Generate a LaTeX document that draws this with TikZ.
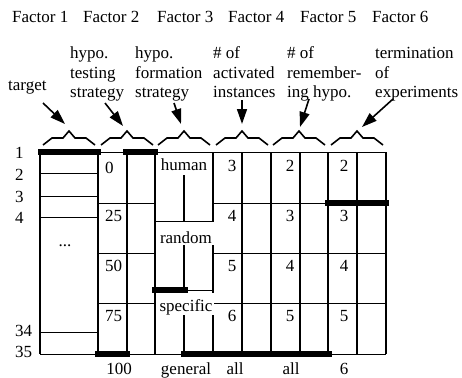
\documentclass[tikz,border=0pt]{standalone}
\usepackage{fontspec}
\setmainfont{Liberation Serif}
\usetikzlibrary{arrows.meta}
\begin{document}
\begin{tikzpicture}[x=1pt,y=-1pt, font=\fontsize{17}{19}\selectfont,
  lbl/.style={inner sep=0pt, anchor=base west},
  num/.style={inner sep=0pt, anchor=base},
  vline/.style={line width=1.8pt},
  hline/.style={line width=1pt},
  bar/.style={line width=6pt},
  brk/.style={line width=1.6pt, line join=miter},
  arr/.style={line width=1.6pt, -{Triangle[length=15pt,width=10pt]}},
  cover/.style={fill=white, inner xsep=2pt, inner ysep=0pt, anchor=base}]
\useasboundingbox (0,0) rectangle (462,377);
% factor headings
\node[lbl] (f1) at (12,23) {Factor 1};
\node[lbl] (f2) at (83,23) {Factor 2};
\node[lbl] (f3) at (157,23) {Factor 3};
\node[lbl] (f4) at (228,23) {Factor 4};
\node[lbl] (f5) at (300,23) {Factor 5};
\node[lbl] (f6) at (372,23) {Factor 6};
% descriptions
\node[lbl] (tg) at (8,90) {target};
\node[lbl] (a1) at (70,59) {hypo.};
\node[lbl] (a2) at (70,78) {testing};
\node[lbl] (a3) at (70,97) {strategy};
\node[lbl] (b1) at (135,59) {hypo.};
\node[lbl] (b2) at (135,78) {formation};
\node[lbl] (b3) at (135,97) {strategy};
\node[lbl] (c1) at (213,59) {\# of};
\node[lbl] (c2) at (213,78) {activated};
\node[lbl] (c3) at (213,97) {instances};
\node[lbl] (d1) at (287,59) {\# of};
\node[lbl] (d2) at (287,78) {remember-};
\node[lbl] (d3) at (287,97) {ing hypo.};
\node[lbl] (e1) at (375,59) {termination};
\node[lbl] (e2) at (375,78) {of};
\node[lbl] (e3) at (375,97) {experiments};
% brackets
\foreach \c/\n in {69/1,127/2,184/3,242/4,299/5,357/6}{
  \coordinate (p\n) at (\c,131);
  \draw[brk] (\c-26,145) -- (\c-17,138) -- (\c-6,138) -- (p\n) -- (\c+6,138) -- (\c+17,138) -- (\c+26,145);
}
% arrows
\coordinate (s1) at (43,103);
\coordinate (s2) at (105,103);
\coordinate (s3) at (174,103);
\coordinate (s4) at (242,100);
\coordinate (s5) at (309,99);
\coordinate (s6) at (393,99);
\coordinate (t1) at (65,124);
\coordinate (t2) at (123,126);
\coordinate (t3) at (181,124);
\coordinate (t4) at (242,124);
\coordinate (t5) at (300,127);
\coordinate (t6) at (362,127);
\foreach \n in {1,...,6} \draw[arr] (s\n) -- (t\n);
% verticals
\foreach \x in {40,98,127,155,184,213,242,271,300,328,357,386}
  \draw[vline] (\x,152) -- (\x,354);
% row lines
\foreach \y in {203,253,303}{
  \draw[hline] (98,\y) -- (155,\y);
  \draw[hline] (213,\y) -- (386,\y);
}
\foreach \y in {173,196,217,332} \draw[hline] (40,\y) -- (98,\y);
\draw[hline] (184,290) -- (213,290);
% column 3 labels with white cover
\node[cover, text height=18pt, text depth=5pt] (hu) at (184,170) {human};
\node[cover, text height=21pt, text depth=2pt] (ra) at (186,243) {random};
\node[cover, text height=18pt, text depth=4pt] (sp) at (186,311) {specific};
\draw[hline] (155,221) -- (213,221);
\draw[hline] (38,152) -- (386,152);
\draw[hline] (40,354) -- (386,354);
% thick bars
\draw[bar] (38,152) -- (101,152);
\draw[bar] (123,152) -- (158,152);
\draw[bar] (325,203) -- (389,203);
\draw[bar] (152,290) -- (188,290);
\draw[bar] (95,354) -- (130,354);
\draw[bar] (181,354) -- (332,354);
% row labels
\node[lbl] (r1) at (15,158) {1};
\node[lbl] (r2) at (15,180) {2};
\node[lbl] (r3) at (15,202) {3};
\node[lbl] (r4) at (15,223) {4};
\node[num] (rd) at (65,246) {...};
\node[lbl] (r34) at (15,336) {34};
\node[lbl] (r35) at (15,357) {35};
% column 2 numbers
\node[lbl] (n0) at (105,173) {0};
\node[lbl] (n25) at (105,221) {25};
\node[lbl] (n50) at (105,271) {50};
\node[lbl] (n75) at (105,321) {75};
\node[num] (n100) at (119,374) {100};
% columns 4-6 numbers
\foreach \v [count=\i] in {3,4,5,6} \node[num] (g\i) at (232,121+50*\i) {\v};
\foreach \v [count=\i] in {2,3,4,5} \node[num] (h\i) at (290,121+50*\i) {\v};
\foreach \v [count=\i] in {2,3,4,5} \node[num] (k\i) at (344,121+50*\i) {\v};
% bottom labels
\node[num] (ge) at (186,374) {general};
\node[num] (al1) at (235,374) {all};
\node[num] (al2) at (291,374) {all};
\node[num] (six) at (344,374) {6};
\end{tikzpicture}
\end{document}
